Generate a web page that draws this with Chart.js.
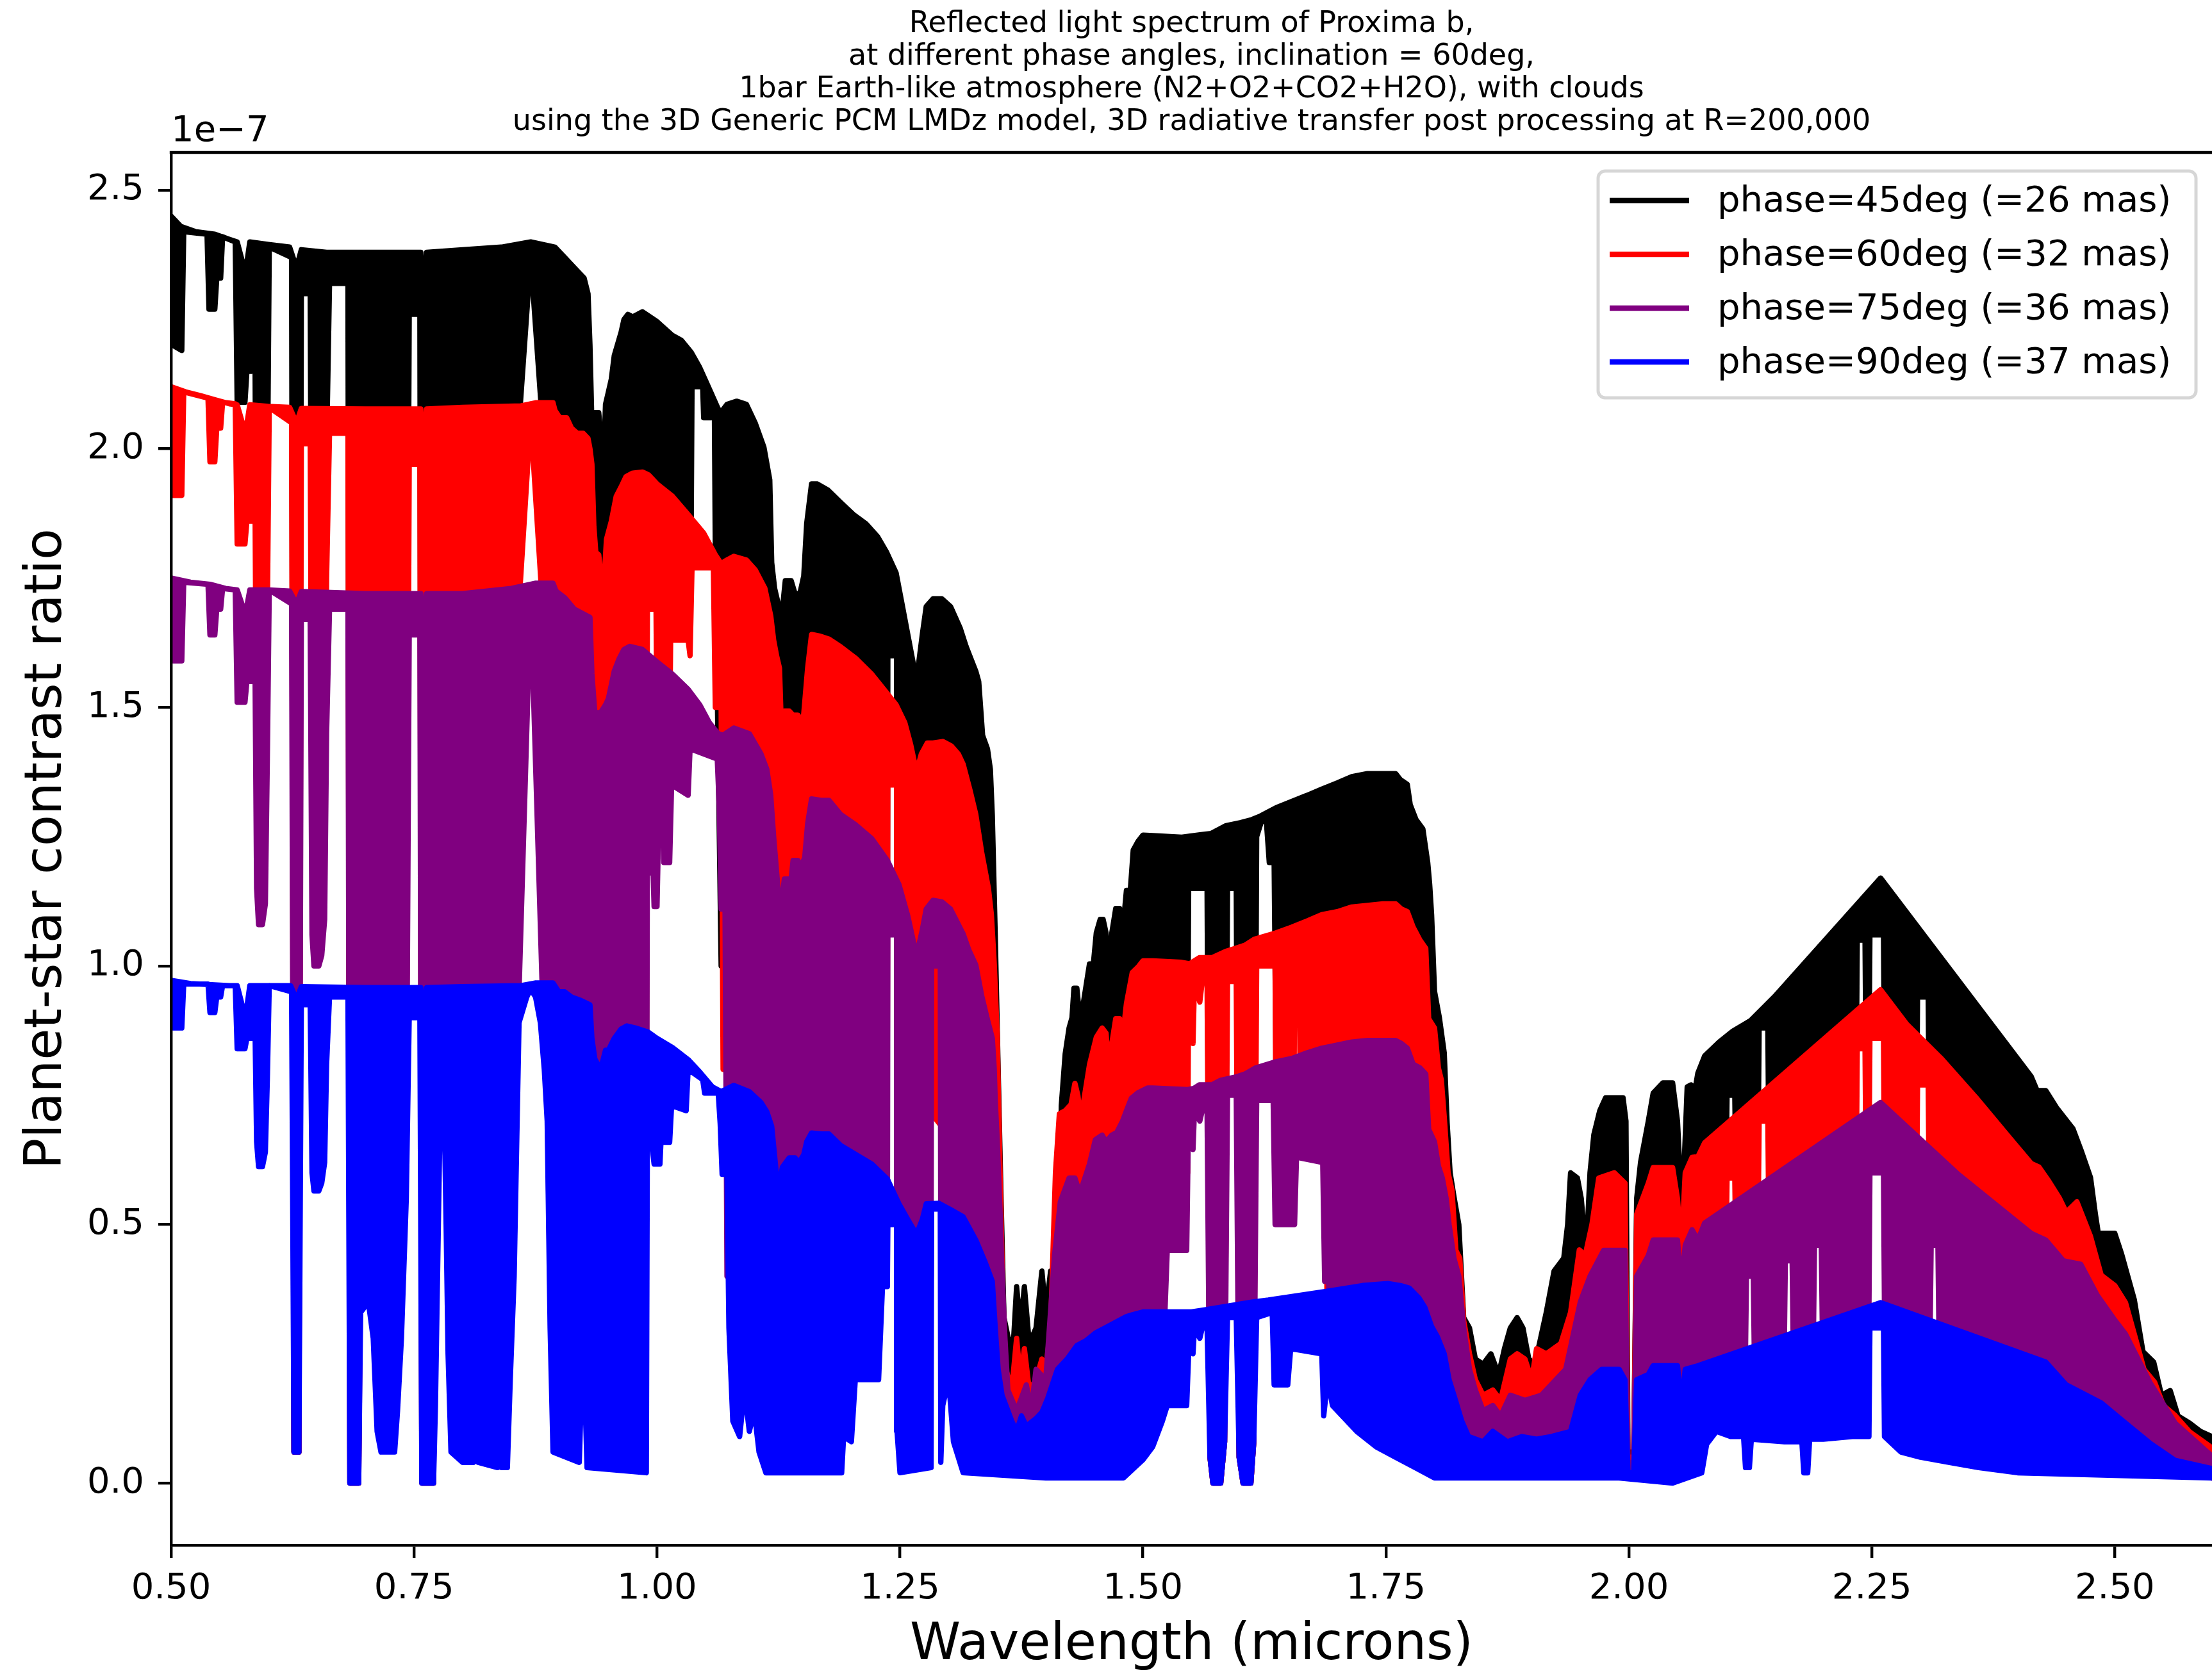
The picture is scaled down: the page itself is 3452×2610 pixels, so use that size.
<!DOCTYPE html>
<html>
<head>
<meta charset="utf-8">
<title>Reflected light spectrum of Proxima b</title>
<script src="https://cdn.jsdelivr.net/npm/chart.js@4.4.1/dist/chart.umd.min.js"></script>
<style>
  html, body { margin: 0; padding: 0; background: #ffffff; }
  #wrap { width: 3452px; height: 2610px; }
</style>
</head>
<body>
<div id="wrap"><canvas id="spectrum" width="3452" height="2610"></canvas></div>
<script>
// ---- text ----
const titleLines = [
  "Reflected light spectrum of Proxima b,",
  "at different phase angles, inclination = 60deg,",
  "1bar Earth-like atmosphere (N2+O2+CO2+H2O), with clouds",
  "using the 3D Generic PCM LMDz model, 3D radiative transfer post processing at R=200,000"
];
const seriesLabels = [
  "phase=45deg (=26 mas)",
  "phase=60deg (=32 mas)",
  "phase=75deg (=36 mas)",
  "phase=90deg (=37 mas)"
];
const xTickValues = [0.5, 0.75, 1.0, 1.25, 1.5, 1.75, 2.0, 2.25, 2.5];
const yTickValues = [0.0, 0.5, 1.0, 1.5, 2.0, 2.5];
const yOffsetLabel = "1e\u22127";

// ---- data: [wavelength (microns), contrast (x1e-7)], upper and lower envelope of each spectrum ----
const phase45Top = [[0.500,2.45],[0.510,2.43],[0.525,2.42],[0.545,2.415],[0.560,2.405],[0.568,2.40],[0.5765,2.34],[0.581,2.40],[0.600,2.395],[0.622,2.39],[0.629,2.35],[0.634,2.385],[0.660,2.38],[0.700,2.38],[0.757,2.38],[0.760,2.30],[0.763,2.38],[0.800,2.385],[0.840,2.39],[0.870,2.40],[0.895,2.39],[0.905,2.37],[0.915,2.35],[0.925,2.33],[0.929,2.30],[0.931,2.20],[0.934,1.97],[0.936,2.07],[0.940,2.07],[0.942,2.03],[0.946,2.03],[0.947,2.086],[0.950,2.11],[0.953,2.135],[0.956,2.18],[0.963,2.225],[0.966,2.25],[0.970,2.26],[0.975,2.255],[0.985,2.265],[1.000,2.246],[1.016,2.219],[1.025,2.21],[1.035,2.187],[1.044,2.157],[1.054,2.115],[1.063,2.077],[1.066,2.071],[1.072,2.086],[1.082,2.092],[1.092,2.086],[1.101,2.05],[1.110,2.003],[1.116,1.94],[1.118,1.78],[1.121,1.73],[1.126,1.69],[1.129,1.69],[1.132,1.745],[1.138,1.745],[1.142,1.72],[1.147,1.72],[1.151,1.754],[1.154,1.855],[1.159,1.932],[1.165,1.932],[1.176,1.92],[1.189,1.896],[1.202,1.873],[1.215,1.855],[1.227,1.83],[1.236,1.801],[1.246,1.76],[1.252,1.701],[1.258,1.641],[1.267,1.552],[1.273,1.641],[1.277,1.695],[1.284,1.71],[1.293,1.71],[1.302,1.695],[1.312,1.653],[1.318,1.618],[1.328,1.57],[1.331,1.55],[1.335,1.446],[1.340,1.42],[1.343,1.38],[1.345,1.29],[1.348,1.06],[1.351,0.80],[1.354,0.55],[1.357,0.32],[1.362,0.275],[1.367,0.28],[1.370,0.38],[1.374,0.30],[1.378,0.38],[1.383,0.27],[1.390,0.30],[1.396,0.41],[1.400,0.33],[1.405,0.41],[1.409,0.41],[1.412,0.50],[1.414,0.45],[1.416,0.73],[1.420,0.83],[1.424,0.88],[1.427,0.90],[1.429,0.957],[1.432,0.957],[1.435,0.90],[1.438,0.92],[1.445,1.004],[1.449,1.004],[1.452,1.064],[1.456,1.09],[1.459,1.09],[1.462,1.064],[1.465,0.99],[1.468,1.064],[1.472,1.111],[1.476,1.111],[1.479,1.064],[1.483,1.146],[1.487,1.146],[1.490,1.224],[1.495,1.241],[1.500,1.253],[1.510,1.252],[1.540,1.249],[1.560,1.254],[1.570,1.256],[1.585,1.271],[1.600,1.277],[1.612,1.283],[1.621,1.29],[1.637,1.306],[1.653,1.318],[1.669,1.33],[1.684,1.342],[1.700,1.354],[1.715,1.366],[1.731,1.372],[1.760,1.372],[1.765,1.36],[1.772,1.351],[1.775,1.312],[1.781,1.283],[1.788,1.265],[1.793,1.20],[1.795,1.158],[1.797,1.099],[1.800,0.951],[1.805,0.90],[1.810,0.832],[1.813,0.696],[1.816,0.601],[1.820,0.554],[1.825,0.50],[1.830,0.32],[1.836,0.30],[1.842,0.24],[1.850,0.23],[1.858,0.25],[1.866,0.21],[1.872,0.26],[1.878,0.30],[1.885,0.32],[1.891,0.30],[1.897,0.24],[1.903,0.23],[1.908,0.27],[1.915,0.33],[1.923,0.41],[1.933,0.435],[1.937,0.50],[1.940,0.60],[1.947,0.59],[1.951,0.55],[1.956,0.44],[1.960,0.60],[1.964,0.674],[1.970,0.72],[1.976,0.745],[1.994,0.745],[1.997,0.70],[1.999,0.06],[2.005,0.06],[2.008,0.55],[2.012,0.62],[2.020,0.70],[2.025,0.754],[2.035,0.774],[2.045,0.774],[2.050,0.70],[2.054,0.55],[2.057,0.62],[2.060,0.766],[2.064,0.77],[2.068,0.76],[2.071,0.793],[2.078,0.826],[2.093,0.853],[2.107,0.874],[2.125,0.894],[2.150,0.941],[2.259,1.170],[2.414,0.786],[2.420,0.759],[2.429,0.759],[2.440,0.726],[2.457,0.685],[2.465,0.645],[2.475,0.591],[2.480,0.52],[2.483,0.483],[2.500,0.483],[2.507,0.443],[2.520,0.355],[2.529,0.254],[2.540,0.234],[2.548,0.17],[2.557,0.179],[2.565,0.13],[2.577,0.116],[2.588,0.10],[2.600,0.09]];
const phase45Bottom = [[0.500,2.45],[0.502,2.20],[0.511,2.19],[0.513,2.42],[0.537,2.415],[0.539,2.27],[0.545,2.27],[0.547,2.33],[0.551,2.33],[0.553,2.41],[0.566,2.40],[0.568,2.09],[0.576,2.09],[0.578,2.15],[0.583,2.15],[0.586,2.32],[0.588,1.58],[0.590,1.52],[0.594,1.52],[0.597,1.56],[0.599,1.90],[0.601,2.39],[0.624,2.37],[0.6265,0.06],[0.6315,0.06],[0.634,2.30],[0.641,2.30],[0.643,2.37],[0.645,1.45],[0.647,1.40],[0.652,1.40],[0.655,1.43],[0.658,1.52],[0.660,2.0],[0.663,2.32],[0.682,2.32],[0.684,0.0],[0.693,0.0],[0.695,0.8],[0.742,1.0],[0.745,2.26],[0.756,2.26],[0.758,0.0],[0.770,0.0],[0.772,0.6],[0.775,1.0],[0.779,2.33],[0.783,1.0],[0.785,0.8],[0.853,0.8],[0.858,2.05],[0.870,2.37],[0.882,2.05],[0.887,1.0],[0.890,0.8],[0.989,0.8],[0.990,1.80],[1.035,1.80],[1.036,2.12],[1.047,2.12],[1.048,2.06],[1.055,2.06],[1.057,2.09],[1.059,2.09],[1.060,1.80],[1.066,1.0],[1.237,1.0],[1.2375,1.60],[1.2465,1.60],[1.247,1.0],[1.330,0.8],[1.345,0.1],[1.500,0.2],[1.525,0.8],[1.546,0.8],[1.547,1.15],[1.566,1.15],[1.569,0.05],[1.572,0.0],[1.580,0.0],[1.584,0.08],[1.587,1.15],[1.596,1.15],[1.599,0.05],[1.603,0.0],[1.611,0.0],[1.614,0.08],[1.617,1.25],[1.622,1.28],[1.627,1.28],[1.630,1.20],[1.635,1.20],[1.637,0.8],[1.655,0.8],[1.656,1.16],[1.661,1.16],[1.662,0.9],[1.688,0.9],[1.690,0.3],[1.720,0.2],[1.760,0.1],[1.800,0.03],[2.070,0.03],[2.080,0.4],[2.100,0.6],[2.101,0.75],[2.109,0.75],[2.110,0.6],[2.133,0.65],[2.134,0.88],[2.143,0.88],[2.144,0.65],[2.234,0.8],[2.235,1.05],[2.243,1.05],[2.244,0.8],[2.247,0.8],[2.248,1.06],[2.262,1.06],[2.263,0.8],[2.296,0.7],[2.297,0.94],[2.308,0.94],[2.309,0.7],[2.360,0.6],[2.400,0.45],[2.430,0.3],[2.450,0.08],[2.600,0.02]];

const phase60Top = [[0.500,2.12],[0.515,2.11],[0.530,2.103],[0.545,2.095],[0.560,2.087],[0.568,2.085],[0.5765,2.03],[0.581,2.085],[0.600,2.082],[0.622,2.08],[0.629,2.05],[0.634,2.078],[0.700,2.077],[0.757,2.077],[0.760,2.00],[0.763,2.077],[0.800,2.08],[0.860,2.083],[0.875,2.089],[0.893,2.089],[0.895,2.074],[0.900,2.06],[0.907,2.06],[0.912,2.04],[0.918,2.03],[0.924,2.03],[0.929,2.02],[0.931,2.0],[0.933,1.97],[0.935,1.85],[0.937,1.80],[0.940,1.795],[0.942,1.76],[0.946,1.76],[0.948,1.825],[0.953,1.86],[0.958,1.908],[0.964,1.93],[0.968,1.946],[0.975,1.953],[0.985,1.955],[0.991,1.95],[1.000,1.932],[1.016,1.908],[1.032,1.873],[1.048,1.837],[1.060,1.795],[1.066,1.778],[1.072,1.785],[1.079,1.792],[1.092,1.785],[1.101,1.766],[1.111,1.73],[1.117,1.677],[1.120,1.63],[1.123,1.60],[1.126,1.576],[1.128,1.458],[1.131,1.493],[1.136,1.493],[1.140,1.485],[1.145,1.485],[1.148,1.47],[1.151,1.487],[1.155,1.576],[1.159,1.641],[1.167,1.638],[1.177,1.632],[1.189,1.617],[1.205,1.594],[1.221,1.564],[1.236,1.529],[1.246,1.505],[1.255,1.47],[1.261,1.428],[1.267,1.375],[1.272,1.41],[1.278,1.431],[1.284,1.431],[1.294,1.434],[1.303,1.425],[1.310,1.41],[1.315,1.39],[1.322,1.34],[1.328,1.293],[1.334,1.22],[1.338,1.18],[1.341,1.15],[1.344,1.10],[1.347,1.004],[1.350,0.868],[1.353,0.60],[1.356,0.35],[1.359,0.22],[1.365,0.18],[1.370,0.28],[1.374,0.20],[1.378,0.26],[1.383,0.18],[1.390,0.20],[1.396,0.24],[1.400,0.22],[1.405,0.30],[1.410,0.601],[1.414,0.714],[1.420,0.72],[1.426,0.732],[1.430,0.773],[1.433,0.75],[1.436,0.702],[1.440,0.75],[1.445,0.809],[1.452,0.862],[1.458,0.88],[1.462,0.87],[1.465,0.80],[1.468,0.85],[1.472,0.898],[1.476,0.898],[1.479,0.86],[1.483,0.927],[1.489,0.987],[1.495,0.998],[1.500,1.01],[1.510,1.01],[1.540,1.007],[1.548,1.004],[1.558,1.016],[1.571,1.016],[1.585,1.028],[1.595,1.034],[1.605,1.04],[1.615,1.052],[1.637,1.064],[1.653,1.075],[1.669,1.087],[1.684,1.099],[1.700,1.105],[1.715,1.114],[1.731,1.117],[1.747,1.12],[1.760,1.12],[1.766,1.11],[1.772,1.105],[1.778,1.075],[1.785,1.05],[1.791,1.034],[1.794,0.898],[1.800,0.88],[1.804,0.803],[1.807,0.78],[1.810,0.708],[1.814,0.60],[1.818,0.566],[1.822,0.45],[1.826,0.435],[1.830,0.315],[1.836,0.25],[1.842,0.20],[1.850,0.17],[1.860,0.18],[1.868,0.16],[1.878,0.24],[1.885,0.25],[1.893,0.24],[1.900,0.20],[1.905,0.26],[1.915,0.25],[1.930,0.27],[1.940,0.33],[1.949,0.451],[1.955,0.44],[1.962,0.50],[1.969,0.59],[1.985,0.60],[1.996,0.58],[1.999,0.05],[2.005,0.05],[2.008,0.52],[2.020,0.58],[2.025,0.61],[2.045,0.61],[2.050,0.55],[2.054,0.45],[2.058,0.60],[2.065,0.63],[2.071,0.631],[2.078,0.658],[2.259,0.954],[2.286,0.887],[2.322,0.82],[2.357,0.746],[2.393,0.665],[2.414,0.618],[2.422,0.611],[2.432,0.584],[2.443,0.551],[2.450,0.524],[2.461,0.544],[2.475,0.477],[2.486,0.402],[2.500,0.382],[2.511,0.349],[2.522,0.275],[2.530,0.22],[2.541,0.195],[2.550,0.15],[2.562,0.131],[2.577,0.099],[2.600,0.068]];
const phase60Bottom = [[0.500,2.12],[0.502,1.91],[0.511,1.91],[0.513,2.11],[0.538,2.098],[0.540,1.975],[0.545,1.975],[0.547,2.04],[0.551,2.04],[0.553,2.09],[0.566,2.087],[0.568,1.816],[0.576,1.816],[0.578,1.86],[0.583,1.86],[0.586,2.02],[0.588,1.38],[0.590,1.32],[0.594,1.32],[0.597,1.36],[0.599,1.68],[0.601,2.08],[0.624,2.05],[0.6265,0.06],[0.6315,0.06],[0.634,2.01],[0.641,2.01],[0.643,2.07],[0.645,1.28],[0.647,1.23],[0.652,1.23],[0.655,1.25],[0.658,1.33],[0.660,1.75],[0.663,2.03],[0.682,2.03],[0.684,0.0],[0.693,0.0],[0.695,0.5],[0.742,0.7],[0.745,1.97],[0.756,1.97],[0.758,0.0],[0.770,0.0],[0.772,0.4],[0.775,0.8],[0.779,2.03],[0.783,0.8],[0.785,0.5],[0.853,0.5],[0.858,1.70],[0.870,2.06],[0.882,1.70],[0.887,0.8],[0.890,0.5],[0.989,0.5],[0.990,1.69],[0.999,1.69],[1.000,1.45],[1.013,1.45],[1.014,1.63],[1.032,1.63],[1.034,1.60],[1.036,1.77],[1.058,1.77],[1.060,1.50],[1.066,1.50],[1.068,0.8],[1.237,0.8],[1.2375,1.35],[1.2465,1.35],[1.247,0.8],[1.330,0.6],[1.345,0.05],[1.500,0.1],[1.525,0.6],[1.546,0.6],[1.547,0.97],[1.550,0.97],[1.5515,0.85],[1.553,0.97],[1.5585,0.93],[1.561,0.97],[1.566,0.97],[1.569,0.05],[1.572,0.0],[1.580,0.0],[1.584,0.08],[1.587,0.97],[1.596,0.97],[1.599,0.05],[1.603,0.0],[1.611,0.0],[1.614,0.08],[1.617,1.00],[1.636,1.00],[1.637,0.6],[1.655,0.6],[1.656,0.95],[1.661,0.95],[1.662,0.7],[1.688,0.7],[1.690,0.2],[1.720,0.15],[1.760,0.08],[1.800,0.02],[2.070,0.02],[2.080,0.3],[2.100,0.45],[2.101,0.59],[2.109,0.59],[2.110,0.45],[2.133,0.5],[2.134,0.70],[2.143,0.70],[2.144,0.5],[2.234,0.6],[2.235,0.84],[2.243,0.84],[2.244,0.6],[2.247,0.6],[2.248,0.86],[2.262,0.86],[2.263,0.6],[2.296,0.55],[2.297,0.77],[2.308,0.77],[2.309,0.55],[2.360,0.45],[2.400,0.35],[2.430,0.2],[2.450,0.05],[2.600,0.01]];

const phase75Top = [[0.500,1.75],[0.520,1.742],[0.540,1.738],[0.556,1.73],[0.568,1.727],[0.5765,1.68],[0.581,1.727],[0.600,1.727],[0.622,1.725],[0.629,1.70],[0.634,1.724],[0.700,1.72],[0.757,1.72],[0.760,1.66],[0.763,1.72],[0.800,1.72],[0.850,1.73],[0.8745,1.74],[0.893,1.74],[0.896,1.725],[0.905,1.712],[0.915,1.69],[0.925,1.68],[0.931,1.674],[0.933,1.565],[0.936,1.49],[0.942,1.49],[0.947,1.505],[0.950,1.517],[0.956,1.57],[0.961,1.594],[0.966,1.612],[0.972,1.618],[0.985,1.612],[1.000,1.588],[1.016,1.564],[1.032,1.535],[1.044,1.505],[1.054,1.47],[1.063,1.449],[1.068,1.446],[1.079,1.46],[1.095,1.449],[1.107,1.41],[1.113,1.38],[1.117,1.33],[1.120,1.25],[1.124,1.16],[1.127,1.10],[1.131,1.168],[1.138,1.168],[1.140,1.204],[1.145,1.204],[1.148,1.19],[1.152,1.21],[1.155,1.275],[1.159,1.323],[1.170,1.32],[1.177,1.32],[1.189,1.293],[1.205,1.272],[1.221,1.246],[1.237,1.204],[1.249,1.157],[1.258,1.097],[1.267,1.02],[1.273,1.07],[1.277,1.11],[1.284,1.127],[1.293,1.124],[1.302,1.11],[1.315,1.062],[1.321,1.03],[1.328,1.002],[1.334,0.943],[1.340,0.896],[1.345,0.86],[1.347,0.80],[1.348,0.74],[1.350,0.665],[1.353,0.523],[1.355,0.41],[1.358,0.28],[1.361,0.18],[1.370,0.14],[1.380,0.19],[1.385,0.14],[1.390,0.22],[1.400,0.20],[1.409,0.44],[1.415,0.544],[1.424,0.59],[1.430,0.59],[1.435,0.56],[1.445,0.617],[1.451,0.664],[1.458,0.673],[1.462,0.66],[1.468,0.673],[1.473,0.678],[1.479,0.70],[1.483,0.72],[1.488,0.744],[1.495,0.755],[1.505,0.764],[1.510,0.764],[1.546,0.761],[1.552,0.763],[1.558,0.77],[1.571,0.77],[1.580,0.779],[1.595,0.785],[1.605,0.791],[1.616,0.803],[1.637,0.815],[1.653,0.821],[1.669,0.832],[1.684,0.841],[1.700,0.847],[1.715,0.853],[1.731,0.856],[1.760,0.856],[1.766,0.85],[1.772,0.841],[1.778,0.81],[1.785,0.803],[1.791,0.791],[1.794,0.684],[1.800,0.66],[1.804,0.613],[1.808,0.59],[1.812,0.55],[1.815,0.50],[1.820,0.435],[1.825,0.40],[1.830,0.30],[1.836,0.22],[1.842,0.18],[1.850,0.14],[1.860,0.15],[1.868,0.13],[1.878,0.17],[1.893,0.16],[1.910,0.17],[1.925,0.20],[1.935,0.22],[1.950,0.35],[1.960,0.40],[1.974,0.45],[1.996,0.45],[1.999,0.04],[2.005,0.04],[2.008,0.40],[2.020,0.44],[2.025,0.47],[2.050,0.47],[2.054,0.38],[2.058,0.46],[2.065,0.49],[2.071,0.47],[2.078,0.503],[2.259,0.736],[2.339,0.597],[2.414,0.483],[2.429,0.47],[2.447,0.43],[2.465,0.423],[2.482,0.363],[2.500,0.315],[2.511,0.288],[2.536,0.195],[2.562,0.116],[2.600,0.052]];
const phase75Bottom = [[0.500,1.75],[0.502,1.59],[0.511,1.59],[0.513,1.742],[0.538,1.738],[0.540,1.64],[0.545,1.64],[0.547,1.69],[0.551,1.69],[0.553,1.73],[0.566,1.727],[0.568,1.51],[0.576,1.51],[0.578,1.55],[0.583,1.55],[0.586,1.67],[0.588,1.15],[0.590,1.08],[0.594,1.08],[0.597,1.12],[0.599,1.40],[0.601,1.727],[0.624,1.70],[0.6265,0.06],[0.6315,0.06],[0.634,1.67],[0.641,1.67],[0.643,1.71],[0.645,1.06],[0.647,1.0],[0.652,1.0],[0.655,1.02],[0.658,1.09],[0.660,1.45],[0.663,1.69],[0.682,1.69],[0.684,0.0],[0.693,0.0],[0.695,0.4],[0.742,0.6],[0.745,1.64],[0.756,1.64],[0.758,0.0],[0.770,0.0],[0.772,0.3],[0.775,0.6],[0.779,1.69],[0.783,0.6],[0.785,0.3],[0.848,0.3],[0.853,0.45],[0.858,0.95],[0.870,1.71],[0.882,0.95],[0.887,0.75],[0.890,0.35],[0.893,0.3],[0.989,0.3],[0.990,1.18],[0.996,1.18],[0.997,1.115],[1.000,1.115],[1.002,1.30],[1.006,1.30],[1.007,1.20],[1.013,1.20],[1.015,1.35],[1.032,1.33],[1.034,1.42],[1.062,1.40],[1.064,1.31],[1.066,1.11],[1.070,1.11],[1.072,0.4],[1.237,0.4],[1.2375,1.06],[1.2465,1.06],[1.247,0.4],[1.282,0.4],[1.2825,1.0],[1.2915,1.0],[1.292,0.4],[1.330,0.3],[1.345,0.03],[1.500,0.05],[1.520,0.2],[1.525,0.45],[1.545,0.45],[1.547,0.72],[1.550,0.72],[1.5515,0.645],[1.553,0.72],[1.5585,0.70],[1.561,0.72],[1.566,0.72],[1.569,0.05],[1.572,0.0],[1.580,0.0],[1.584,0.08],[1.587,0.75],[1.596,0.75],[1.599,0.05],[1.603,0.0],[1.611,0.0],[1.614,0.08],[1.617,0.74],[1.634,0.74],[1.636,0.50],[1.656,0.50],[1.658,0.63],[1.685,0.62],[1.687,0.39],[1.691,0.39],[1.693,0.2],[1.720,0.12],[1.760,0.06],[1.800,0.02],[2.070,0.02],[2.080,0.2],[2.100,0.24],[2.120,0.255],[2.121,0.40],[2.128,0.40],[2.129,0.26],[2.160,0.28],[2.161,0.43],[2.168,0.43],[2.169,0.285],[2.190,0.30],[2.191,0.46],[2.198,0.46],[2.199,0.305],[2.240,0.33],[2.247,0.335],[2.248,0.60],[2.262,0.60],[2.263,0.335],[2.300,0.31],[2.310,0.30],[2.311,0.46],[2.318,0.46],[2.319,0.30],[2.330,0.29],[2.360,0.27],[2.400,0.22],[2.430,0.12],[2.450,0.05],[2.600,0.01]];

const phase90Top = [[0.500,0.972],[0.520,0.966],[0.560,0.962],[0.568,0.962],[0.5765,0.90],[0.581,0.962],[0.623,0.962],[0.629,0.935],[0.634,0.960],[0.700,0.958],[0.757,0.958],[0.760,0.90],[0.763,0.958],[0.800,0.960],[0.860,0.962],[0.8745,0.967],[0.893,0.967],[0.899,0.95],[0.905,0.95],[0.912,0.94],[0.922,0.933],[0.931,0.925],[0.933,0.86],[0.936,0.82],[0.942,0.80],[0.947,0.837],[0.950,0.837],[0.956,0.86],[0.963,0.878],[0.969,0.884],[0.978,0.88],[0.991,0.872],[1.000,0.86],[1.016,0.842],[1.032,0.819],[1.044,0.795],[1.057,0.766],[1.066,0.757],[1.079,0.769],[1.095,0.757],[1.107,0.736],[1.113,0.718],[1.118,0.69],[1.123,0.594],[1.126,0.58],[1.129,0.611],[1.136,0.629],[1.142,0.629],[1.146,0.62],[1.151,0.635],[1.154,0.66],[1.159,0.677],[1.170,0.675],[1.177,0.675],[1.189,0.653],[1.205,0.635],[1.221,0.617],[1.237,0.588],[1.249,0.54],[1.258,0.51],[1.267,0.481],[1.273,0.51],[1.277,0.54],[1.290,0.541],[1.302,0.529],[1.315,0.515],[1.328,0.47],[1.337,0.43],[1.345,0.39],[1.348,0.30],[1.351,0.22],[1.355,0.17],[1.359,0.15],[1.365,0.12],[1.370,0.10],[1.375,0.13],[1.380,0.11],[1.390,0.125],[1.396,0.137],[1.402,0.164],[1.412,0.22],[1.422,0.24],[1.432,0.266],[1.441,0.275],[1.451,0.29],[1.461,0.30],[1.474,0.313],[1.483,0.322],[1.490,0.326],[1.500,0.331],[1.550,0.331],[1.564,0.335],[1.596,0.345],[1.612,0.35],[1.629,0.354],[1.661,0.363],[1.693,0.372],[1.726,0.382],[1.752,0.386],[1.765,0.382],[1.774,0.377],[1.784,0.358],[1.790,0.34],[1.797,0.303],[1.803,0.283],[1.810,0.25],[1.815,0.20],[1.820,0.17],[1.828,0.12],[1.835,0.09],[1.850,0.08],[1.860,0.10],[1.875,0.08],[1.890,0.09],[1.905,0.085],[1.920,0.09],[1.940,0.10],[1.950,0.17],[1.960,0.20],[1.972,0.22],[1.990,0.22],[1.996,0.20],[1.999,0.02],[2.005,0.02],[2.008,0.20],[2.020,0.21],[2.025,0.227],[2.050,0.227],[2.054,0.15],[2.058,0.22],[2.071,0.227],[2.259,0.349],[2.429,0.234],[2.450,0.19],[2.486,0.155],[2.511,0.116],[2.537,0.076],[2.562,0.044],[2.600,0.028]];
const phase90Bottom = [[0.500,0.972],[0.502,0.88],[0.511,0.88],[0.513,0.965],[0.538,0.965],[0.540,0.91],[0.545,0.91],[0.547,0.94],[0.551,0.94],[0.553,0.962],[0.566,0.962],[0.568,0.84],[0.576,0.84],[0.578,0.86],[0.583,0.86],[0.586,0.93],[0.588,0.66],[0.590,0.612],[0.594,0.612],[0.597,0.64],[0.599,0.78],[0.601,0.962],[0.624,0.95],[0.6265,0.06],[0.6315,0.06],[0.634,0.925],[0.641,0.925],[0.643,0.95],[0.645,0.60],[0.647,0.565],[0.652,0.565],[0.655,0.58],[0.658,0.62],[0.660,0.81],[0.663,0.94],[0.682,0.94],[0.684,0.0],[0.693,0.0],[0.695,0.33],[0.703,0.35],[0.708,0.28],[0.712,0.10],[0.716,0.06],[0.730,0.06],[0.733,0.14],[0.737,0.28],[0.742,0.55],[0.745,0.90],[0.756,0.90],[0.758,0.0],[0.770,0.0],[0.772,0.15],[0.775,0.5],[0.779,0.95],[0.783,0.5],[0.785,0.25],[0.788,0.06],[0.800,0.04],[0.811,0.04],[0.813,0.18],[0.816,0.04],[0.836,0.03],[0.838,0.15],[0.840,0.03],[0.846,0.03],[0.849,0.20],[0.853,0.40],[0.858,0.89],[0.866,0.94],[0.870,0.955],[0.875,0.94],[0.880,0.89],[0.884,0.80],[0.887,0.70],[0.890,0.30],[0.893,0.06],[0.920,0.04],[0.922,0.16],[0.926,0.16],[0.928,0.03],[0.989,0.02],[0.990,0.65],[0.995,0.65],[0.997,0.617],[1.003,0.617],[1.005,0.70],[1.007,0.659],[1.013,0.659],[1.015,0.73],[1.030,0.72],[1.032,0.80],[1.047,0.78],[1.049,0.754],[1.063,0.754],[1.065,0.695],[1.067,0.597],[1.072,0.597],[1.074,0.30],[1.078,0.12],[1.085,0.09],[1.090,0.18],[1.095,0.10],[1.100,0.14],[1.105,0.06],[1.112,0.02],[1.190,0.02],[1.192,0.09],[1.200,0.08],[1.204,0.20],[1.228,0.20],[1.232,0.38],[1.237,0.38],[1.2375,0.50],[1.2465,0.50],[1.247,0.10],[1.250,0.02],[1.282,0.03],[1.2825,0.53],[1.2915,0.53],[1.292,0.04],[1.294,0.15],[1.300,0.20],[1.305,0.08],[1.315,0.02],[1.400,0.01],[1.480,0.01],[1.500,0.045],[1.510,0.07],[1.520,0.12],[1.525,0.15],[1.545,0.15],[1.548,0.30],[1.550,0.29],[1.5515,0.25],[1.553,0.30],[1.5585,0.28],[1.561,0.30],[1.566,0.30],[1.569,0.05],[1.572,0.0],[1.580,0.0],[1.584,0.08],[1.587,0.32],[1.596,0.32],[1.599,0.05],[1.603,0.0],[1.611,0.0],[1.614,0.08],[1.617,0.32],[1.633,0.33],[1.635,0.19],[1.649,0.19],[1.652,0.26],[1.684,0.25],[1.686,0.13],[1.690,0.20],[1.695,0.15],[1.700,0.14],[1.720,0.10],[1.740,0.07],[1.760,0.05],[1.780,0.03],[1.800,0.01],[1.990,0.01],[2.045,0.0],[2.075,0.02],[2.080,0.075],[2.090,0.10],[2.105,0.09],[2.118,0.09],[2.120,0.03],[2.124,0.03],[2.126,0.085],[2.160,0.08],[2.178,0.08],[2.180,0.02],[2.184,0.02],[2.186,0.085],[2.200,0.085],[2.230,0.09],[2.247,0.09],[2.248,0.30],[2.262,0.30],[2.263,0.09],[2.280,0.06],[2.300,0.05],[2.330,0.04],[2.360,0.03],[2.400,0.02],[2.600,0.01]];

// ---- styles ----
const seriesColors = ["#000000", "#ff0000", "#800080", "#0000ff"];
const FONT = "DejaVu Sans";
const LINE_W = 8.3;
const SPINE_W = 4.4;

// outline of one spectrum: upper envelope left to right, lower envelope back
function outline(top, bottom) {
  const pts = top.map(([x, y]) => ({ x: x, y: y }));
  for (let i = bottom.length - 1; i >= 0; i--) {
    pts.push({ x: bottom[i][0], y: bottom[i][1] });
  }
  return pts;
}

const envelopes = [
  [phase45Top, phase45Bottom],
  [phase60Top, phase60Bottom],
  [phase75Top, phase75Bottom],
  [phase90Top, phase90Bottom]
];

const datasets = envelopes.map(([top, bottom], i) => ({
  label: seriesLabels[i],
  data: outline(top, bottom),
  borderColor: seriesColors[i],
  backgroundColor: seriesColors[i],
  borderWidth: LINE_W,
  borderJoinStyle: "round",
  borderCapStyle: "round",
  pointRadius: 0,
  tension: 0,
  fill: "shape",
  clip: 0,
  order: envelopes.length - 1 - i   // last series drawn on top
}));

// top spine, offset text, title and legend box
const decorations = {
  id: "decorations",
  afterDraw(chart) {
    const ctx = chart.ctx;
    const area = chart.chartArea;
    ctx.save();

    ctx.strokeStyle = "#000";
    ctx.lineWidth = SPINE_W;
    ctx.beginPath();
    ctx.moveTo(area.left - SPINE_W / 2, area.top);
    ctx.lineTo(area.right, area.top);
    ctx.stroke();

    ctx.fillStyle = "#000";
    ctx.font = "56px '" + FONT + "'";
    ctx.textAlign = "left";
    ctx.textBaseline = "alphabetic";
    ctx.fillText(yOffsetLabel, area.left, area.top - 18);

    ctx.font = "46px '" + FONT + "'";
    ctx.textAlign = "center";
    const cx = (area.left + area.right) / 2;
    titleLines.forEach((t, i) => ctx.fillText(t, cx, 50 + i * 51));

    // legend
    const w = 933, h = 354;
    const x0 = area.right - 25 - w;
    const y0 = area.top + 29;
    ctx.beginPath();
    if (ctx.roundRect) ctx.roundRect(x0, y0, w, h, 11);
    else ctx.rect(x0, y0, w, h);
    ctx.fillStyle = "rgba(255,255,255,0.8)";
    ctx.fill();
    ctx.strokeStyle = "rgba(204,204,204,0.8)";
    ctx.lineWidth = 5;
    ctx.stroke();

    seriesLabels.forEach((label, i) => {
      const ry = y0 + 46 + i * 84;
      ctx.strokeStyle = seriesColors[i];
      ctx.lineWidth = LINE_W;
      ctx.lineCap = "butt";
      ctx.beginPath();
      ctx.moveTo(x0 + 18, ry);
      ctx.lineTo(x0 + 142, ry);
      ctx.stroke();
      ctx.fillStyle = "#000";
      ctx.font = "56px '" + FONT + "'";
      ctx.textAlign = "left";
      ctx.textBaseline = "middle";
      ctx.fillText(label, x0 + 186, ry + 2);
    });
    ctx.restore();
  }
};

const tickFont = { family: FONT, size: 56 };
const axisGrid = { drawOnChartArea: false, drawTicks: true, tickLength: 20, color: "#000", lineWidth: SPINE_W };
const axisBorder = { display: true, color: "#000", width: SPINE_W, z: 1 };

const spectrumChart = new Chart(document.getElementById("spectrum"), {
  type: "line",
  data: { datasets: datasets },
  options: {
    responsive: false,
    animation: false,
    devicePixelRatio: 1,
    events: [],
    layout: { padding: { top: 238, right: -6, bottom: 0, left: 0 } },
    plugins: {
      legend: { display: false },
      tooltip: { enabled: false },
      title: { display: false }
    },
    scales: {
      x: {
        type: "linear",
        min: 0.5,
        max: 2.6,
        afterBuildTicks: (scale) => { scale.ticks = xTickValues.map(v => ({ value: v })); },
        afterFit: (scale) => { scale.height = 198; },
        ticks: {
          callback: (v) => Number(v).toFixed(2),
          font: tickFont, color: "#000", padding: 15,
          maxRotation: 0, autoSkip: false
        },
        grid: axisGrid,
        border: axisBorder,
        title: {
          display: true, text: "Wavelength (microns)", color: "#000",
          font: { family: FONT, size: 80, lineHeight: 1 },
          padding: { top: 0, bottom: 1 }
        }
      },
      y: {
        type: "linear",
        min: -0.120,
        max: 2.573,
        afterBuildTicks: (scale) => { scale.ticks = yTickValues.map(v => ({ value: v })); },
        afterFit: (scale) => { scale.width = 267; },
        ticks: {
          callback: (v) => Number(v).toFixed(1),
          font: tickFont, color: "#000", padding: 22
        },
        grid: axisGrid,
        border: axisBorder,
        title: {
          display: true, text: "Planet-star contrast ratio", color: "#000",
          font: { family: FONT, size: 80, lineHeight: 1 },
          padding: { top: 34, bottom: 0 }
        }
      }
    }
  },
  plugins: [decorations]
});
</script>
</body>
</html>
